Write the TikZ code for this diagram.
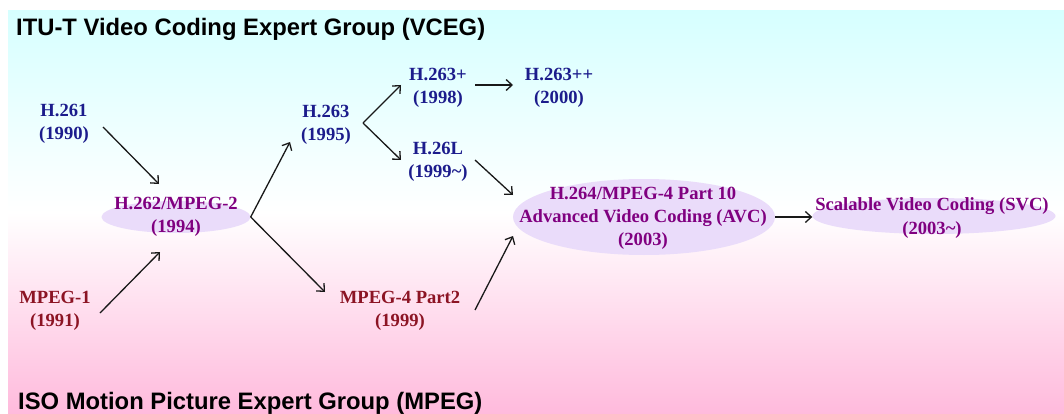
\documentclass[tikz,border=0pt]{standalone}
\usepackage{fontspec}
\setmainfont{Liberation Serif}
\newfontfamily\headfont{Liberation Sans}
\usetikzlibrary{shapes.geometric,arrows.meta,calc}

\definecolor{ituBlue}{RGB}{28,28,140}
\definecolor{jointPurple}{RGB}{128,0,128}
\definecolor{isoRed}{RGB}{140,20,36}
\definecolor{jointFill}{RGB}{234,220,250}
\definecolor{skyTop}{RGB}{214,255,255}
\definecolor{pinkBottom}{RGB}{255,186,220}

\tikzset{
  std/.style={inner sep=0pt, align=center,
    font=\fontsize{18.6}{23.2}\selectfont\bfseries},
  itu/.style={std, text=ituBlue},
  iso/.style={std, text=isoRed},
  joint/.style={std, text=jointPurple},
  blob/.style={ellipse, fill=jointFill, draw=none, inner sep=0pt},
  heading/.style={anchor=base west, inner sep=0pt,
    font=\headfont\fontsize{23.8}{28}\selectfont\bfseries},
  arr/.style={line width=1.3pt, draw=black!90,
    -{Straight Barb[length=6pt,width=11pt]}},
}

\begin{document}
\begin{tikzpicture}[x=1pt,y=-1pt]
  \useasboundingbox (0,0) rectangle (1064,414);
  % background band: ITU side on top, ISO side at the bottom
  \shade[top color=skyTop, bottom color=pinkBottom, middle color=white]
    (8,11) rectangle (1064,414);

  \node[heading] (itutitle) at (16,36) {ITU-T Video Coding Expert Group (VCEG)};
  \node[heading] (isotitle) at (18,409) {ISO Motion Picture Expert Group (MPEG)};

  % joint-standard ellipses
  \node[blob, minimum width=149pt, minimum height=32pt] (h262e) at (176,217) {};
  \node[blob, minimum width=262pt, minimum height=76pt] (h264e) at (644,217) {};
  \node[blob, minimum width=243pt, minimum height=36pt] (svce) at (934,216) {};

  % standards
  \node[itu] (h261)   at (64,124)  {H.261\\(1990)};
  \node[iso] (mpeg1)  at (55,311)  {MPEG-1\\(1991)};
  \node[joint] (h262) at (176,217) {H.262/MPEG-2\\(1994)};
  \node[itu] (h263)   at (326,125) {H.263\\(1995)};
  \node[itu] (h263p)  at (438,88)  {H.263+\\(1998)};
  \node[itu] (h263pp) at (559,88)  {H.263++\\(2000)};
  \node[itu] (h26l)   at (438,162) {H.26L\\(1999\textasciitilde)};
  \node[iso] (mpeg4)  at (400,311) {MPEG-4 Part2\\(1999)};
  \node[joint] (h264) at (643,218) {H.264/MPEG-4 Part 10\\Advanced Video Coding (AVC)\\(2003)};
  \node[joint] (svc)  at (932,218) {Scalable Video Coding (SVC)\\(2003\textasciitilde)};

  % evolution arrows
  \draw[arr] ($(h261)+(39,3)$) -- ($(h262e)+(-17,-33)$);
  \draw[arr] ($(mpeg1)+(45,2)$) -- ($(h262e)+(-16,35)$);
  \draw[arr] (h262e.east) -- ($(h263)+(-36,17)$);
  \draw[arr] (h262e.east) -- ($(mpeg4)+(-75,-19)$);
  \draw[arr] ($(h263)+(37,-2)$) -- ($(h263p)+(-37,-3)$);
  \draw[arr] ($(h263)+(37,-2)$) -- ($(h26l)+(-37,-2)$);
  \draw[arr] ($(h263p)+(37,-3)$) -- ($(h263pp)+(-46,-3)$);
  \draw[arr] ($(h26l)+(37,-2)$) -- ($(h264e)+(-131,-22)$);
  \draw[arr] ($(mpeg4)+(75,-1)$) -- ($(h264e)+(-131,19)$);
  \draw[arr] (h264e.east) -- (svce.west |- h264e.east);
\end{tikzpicture}
\end{document}
